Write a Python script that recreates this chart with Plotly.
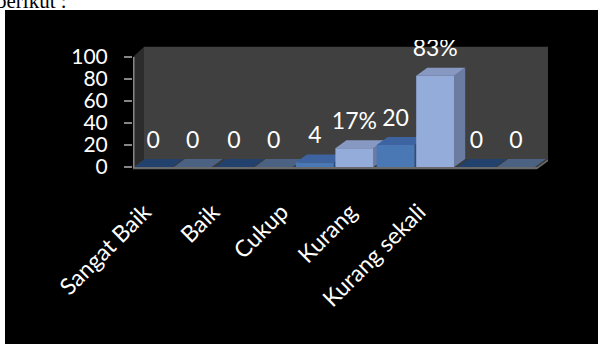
import numpy as np
import plotly.graph_objects as go

# ---- data -------------------------------------------------------------
categories = ["Sangat Baik", "Baik", "Cukup", "Kurang", "Kurang sekali"]
counts = [0, 0, 4, 20, 0]          # number of respondents
percents = [0, 0, 17, 83, 0]       # share of respondents (%)
y_ticks = [0, 20, 40, 60, 80, 100]

# ---- geometry of the pseudo-3D view -----------------------------------
W, H = 606, 344
L, R, T, B = 133, 46, 40, 169                 # margins (px)
plot_w, plot_h = W - L - R, H - T - B
cat_px = 80.8                                 # px per category
x_lo = -0.5
x_hi = x_lo + plot_w / cat_px
val_px = 1.1                                  # px per value unit
zero_px = 167 - T                             # value 0, px from top of plot
y_hi = zero_px / val_px
y_lo = -(plot_h - zero_px) / val_px

dx = 11 / cat_px                              # depth offset (x units)
dy = 8 / val_px                               # depth offset (y units)
bar_w = 0.47
n = len(categories)
idx = np.arange(n)

FONT = "Lato"


def px_to_paper_x(px):
    return (px - L) / plot_w


def px_to_paper_y(py):
    return (H - B - py) / plot_h


fig = go.Figure()

# back wall, side wall and floor
wall_top = 100 + dy + 2
fig.add_trace(go.Scatter(
    x=[x_lo + dx, n - 0.5 + dx, n - 0.5 + dx, x_lo + dx, x_lo + dx],
    y=[dy, dy, wall_top, wall_top, dy],
    fill="toself", fillcolor="#404040", mode="none",
    hoverinfo="skip", showlegend=False))
fig.add_trace(go.Scatter(
    x=[x_lo, x_lo + dx, x_lo + dx, x_lo, x_lo],
    y=[-1, dy, wall_top, 100, -1],
    fill="toself", fillcolor="#2c2c2c", mode="none",
    hoverinfo="skip", showlegend=False))
fig.add_trace(go.Scatter(
    x=[x_lo, n - 0.5, n - 0.5 + dx, x_lo + dx, x_lo],
    y=[0, 0, dy, dy, 0],
    fill="toself", fillcolor="#3a3a3a", mode="none",
    hoverinfo="skip", showlegend=False))

series = [
    dict(vals=counts, shift=-0.25, front="#4a78b4", top="#3d64a0",
         top0="#22416c", side="#2c4f82",
         text=[str(v) for v in counts]),
    dict(vals=percents, shift=0.24, front="#94acd9", top="#8798c2",
         top0="#4c6283", side="#6a7ca2",
         text=[f"{v}%" if v else "0" for v in percents]),
]

# side and top faces, drawn left to right so nearer bars overlap
bars_lr = []
for i in idx:
    for s in series:
        bars_lr.append((i + s["shift"], s["vals"][i], s))
for xc, v, s in bars_lr:
    xl, xr = xc - bar_w / 2, xc + bar_w / 2
    if v > 0:
        fig.add_trace(go.Scatter(
            x=[xr, xr, xr + dx, xr + dx, xr], y=[0, v, v + dy, dy, 0],
            fill="toself", fillcolor=s["side"], mode="none",
            hoverinfo="skip", showlegend=False, zorder=0))
    fig.add_trace(go.Scatter(
        x=[xl, xr, xr + dx, xl + dx, xl], y=[v, v, v + dy, v + dy, v],
        fill="toself", fillcolor=s["top"] if v > 0 else s["top0"],
        mode="none", hoverinfo="skip", showlegend=False, zorder=0))

# floor slab front edge
fig.add_trace(go.Scatter(
    x=[x_lo, n - 0.5, n - 0.5 + dx, n - 0.5 + dx, n - 0.5, x_lo, x_lo],
    y=[0, 0, dy, dy - 2, -2, -2, 0],
    fill="toself", fillcolor="#6a6a6a", mode="none",
    hoverinfo="skip", showlegend=False, zorder=0))

# front faces of the columns
for s in series:
    fig.add_trace(go.Bar(
        x=idx + s["shift"], y=s["vals"], width=bar_w,
        marker=dict(color=s["front"], line=dict(width=0)),
        hoverinfo="skip", showlegend=False, zorder=1))

# value labels above each column
for s in series:
    fig.add_trace(go.Scatter(
        x=idx + s["shift"], y=np.array(s["vals"]) + 22.7,
        mode="text", text=s["text"], textposition="middle center",
        textfont=dict(family=FONT, size=23, color="white"),
        cliponaxis=False, hoverinfo="skip", showlegend=False, zorder=2))

# vertical axis line
fig.add_trace(go.Scatter(
    x=[x_lo, x_lo], y=[-1, 100], mode="lines",
    line=dict(color="#868686", width=3),
    hoverinfo="skip", showlegend=False, zorder=2))

# category labels sit on their own evenly spaced ticks
label_pos = idx * 0.85 - 0.36

fig.update_layout(
    width=W, height=H,
    margin=dict(l=L, r=R, t=T, b=B),
    paper_bgcolor="white", plot_bgcolor="rgba(0,0,0,0)",
    barmode="overlay",
    xaxis=dict(range=[x_lo, x_hi], showgrid=False, zeroline=False,
               showline=False, ticks="", tickvals=label_pos,
               ticktext=categories, tickangle=-45,
               tickfont=dict(family=FONT, size=23, color="white"),
               ticklabelstandoff=18, fixedrange=True),
    yaxis=dict(range=[y_lo, y_hi], showgrid=False, zeroline=False,
               showline=False, tickvals=y_ticks, ticks="outside",
               ticklen=8, tickwidth=2, tickcolor="#868686",
               tickfont=dict(family=FONT, size=21, color="white"),
               ticklabelstandoff=12, fixedrange=True),
    shapes=[dict(type="rect", xref="paper", yref="paper", layer="below",
                 x0=px_to_paper_x(5), x1=px_to_paper_x(598),
                 y0=px_to_paper_y(H + 2), y1=px_to_paper_y(10),
                 fillcolor="black", line=dict(width=0))],
    annotations=[dict(text="berikut :", xref="paper", yref="paper",
                      x=px_to_paper_x(-6), y=px_to_paper_y(15),
                      xanchor="left", yanchor="bottom", showarrow=False,
                      font=dict(family="Liberation Serif", size=21,
                                color="black"))],
)

fig.write_html("out.html")
